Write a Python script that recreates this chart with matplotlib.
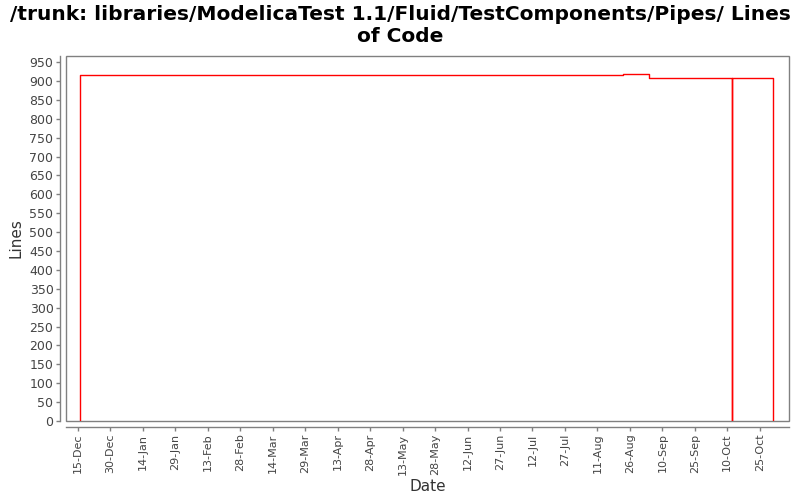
import matplotlib
matplotlib.use("Agg")
import matplotlib.pyplot as plt
import matplotlib.dates as mdates
from matplotlib.patches import Rectangle
import datetime as dt

# Data
dates = ["2007-12-16", "2007-12-16", "2008-08-23", "2008-09-04",
         "2008-10-12", "2008-10-12", "2008-10-31"]
lines = [0, 915, 919, 908, 0, 908, 0]
tick_dates = ["2007-12-15", "2007-12-30", "2008-01-14", "2008-01-29", "2008-02-13",
              "2008-02-28", "2008-03-14", "2008-03-29", "2008-04-13", "2008-04-28",
              "2008-05-13", "2008-05-28", "2008-06-12", "2008-06-27", "2008-07-12",
              "2008-07-27", "2008-08-11", "2008-08-26", "2008-09-10", "2008-09-25",
              "2008-10-10", "2008-10-25"]
y_ticks = list(range(0, 951, 50))

d = [dt.datetime.strptime(s, "%Y-%m-%d") for s in dates]
td = [dt.datetime.strptime(s, "%Y-%m-%d") for s in tick_dates]

plt.rcParams['font.family'] = ['DejaVu Sans']
fig = plt.figure(figsize=(8, 5), dpi=100)
ax = fig.add_axes([66/800, 79/500, (789-66)/800, (421-56)/500])

ax.plot(d, lines, color='#ff0000', lw=1.0, drawstyle='steps-post')

ax.set_xlim(dt.datetime(2007, 12, 9, 12), dt.datetime(2008, 11, 7, 12))
ax.set_ylim(0, 966)
ax.set_yticks(y_ticks)
ax.set_xticks(td)
ax.xaxis.set_major_formatter(mdates.DateFormatter('%d-%b'))

grey = '#808080'
for s in ['top', 'right']:
    ax.spines[s].set_visible(False)
for s in ['left', 'bottom']:
    ax.spines[s].set_position(('outward', 4))
    ax.spines[s].set_color(grey)
    ax.spines[s].set_linewidth(1.0)
ax.add_patch(Rectangle((0, 0), 1, 1, transform=ax.transAxes, fill=False,
                       ec=grey, lw=1.0, clip_on=False))
ax.tick_params(axis='both', colors=grey, length=3, width=1, labelsize=9,
               labelcolor='#444444', pad=2)
ax.tick_params(axis='x', labelrotation=90, labelsize=8)

ax.set_ylabel('Lines', fontsize=11, color='#333333', labelpad=4)
ax.set_xlabel('Date', fontsize=11, color='#333333', labelpad=3)
fig.suptitle('/trunk: libraries/ModelicaTest 1.1/Fluid/TestComponents/Pipes/ Lines\nof Code',
             fontsize=14.5, fontweight='bold', y=0.99, linespacing=1.2)

fig.savefig('out.png', dpi=100)
